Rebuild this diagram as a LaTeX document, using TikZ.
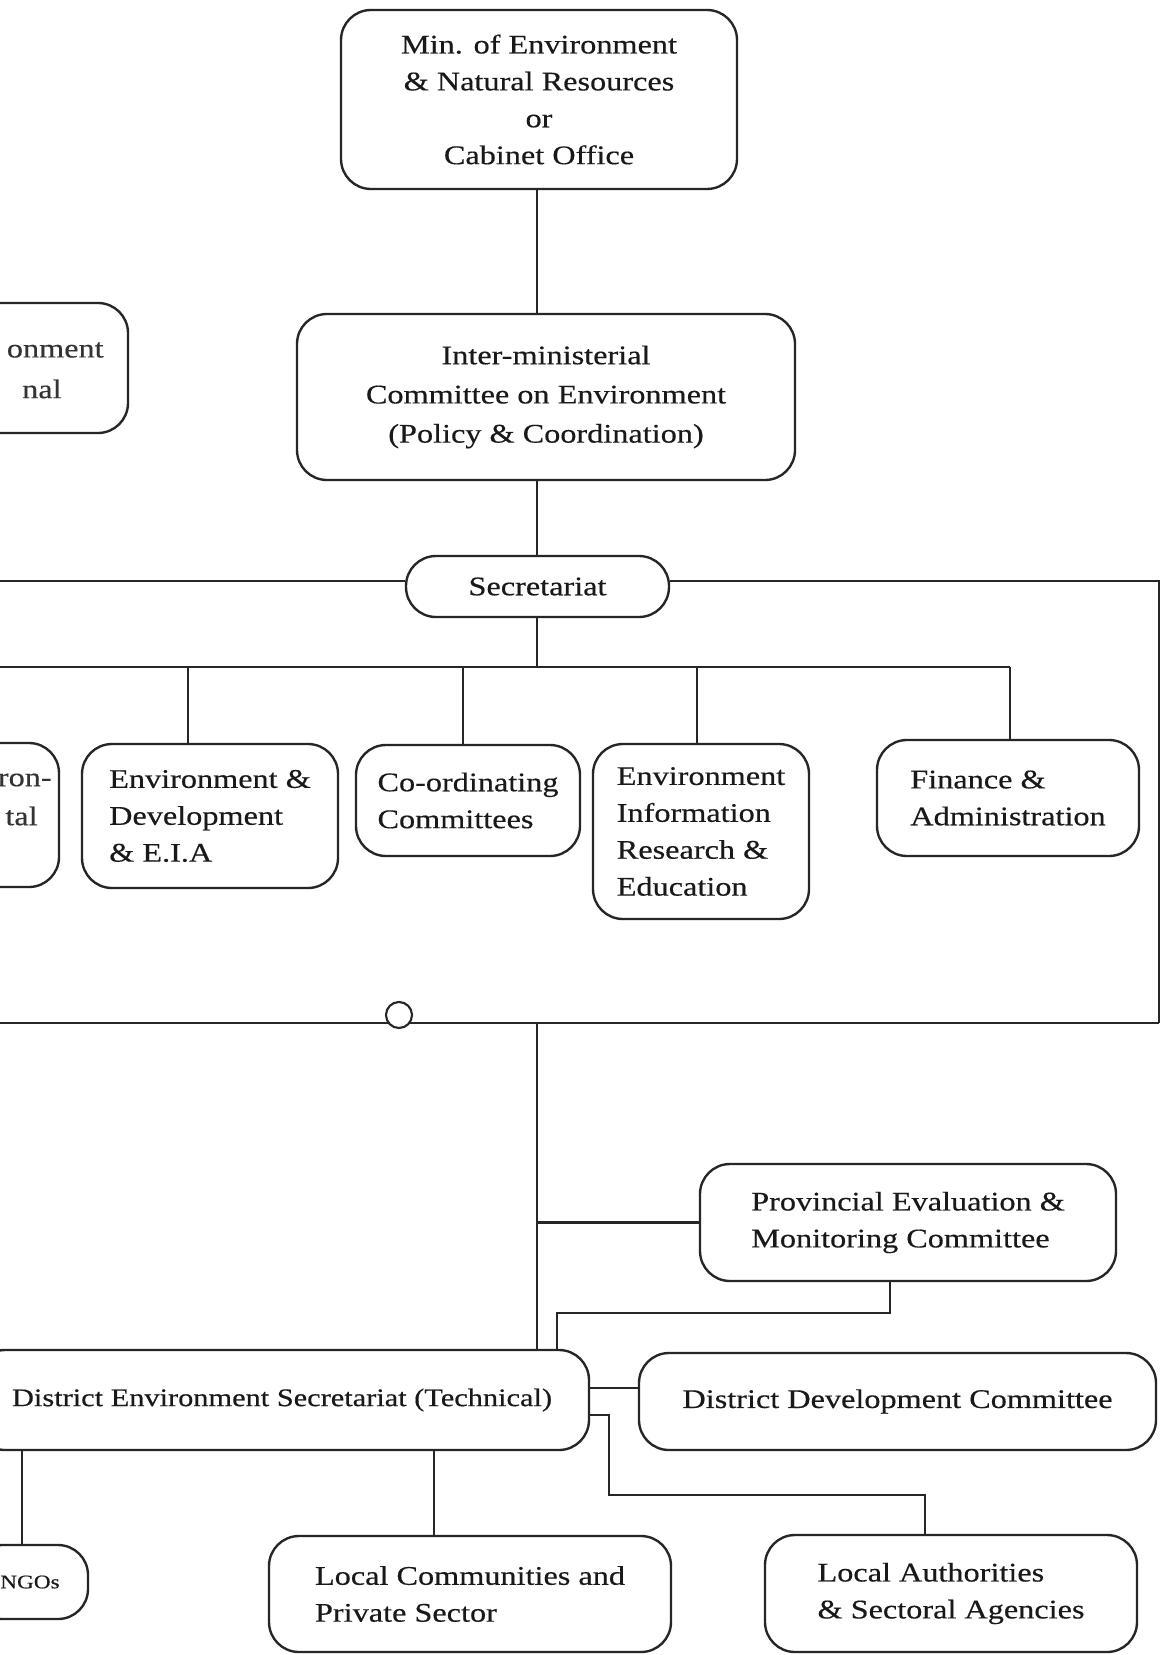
\documentclass[tikz,border=0pt]{standalone}
\usepackage{fontspec}
\setmainfont{Liberation Serif}[FakeStretch=1.2, FakeBold=0.4]
\begin{document}
\begin{tikzpicture}[x=0.02cm,y=-0.02cm,
  every node/.style={font=\fontsize{15.3pt}{21pt}\selectfont, text=black!90},
  area/.style n args={4}{minimum width={((#3)-(#1))*0.02cm}, minimum height={((#4)-(#2))*0.02cm},
    at={({((#1)+(#3))/2},{((#2)+(#4))/2})}},
  box/.style={draw=black!85, line width=1.35pt, rounded corners=0.6cm, inner sep=0pt, align=center},
  lbox/.style={box, align=left},
  small/.style={font=\fontsize{14.4pt}{20pt}\selectfont},
  frag/.style={inner sep=0pt, text=black!80},
  link/.style={draw=black!85, line width=1.3pt},
  rule/.style={draw=black!85, line width=1.6pt}]

% page frame
\useasboundingbox (0,0) rectangle (1162,1655);
\fill[white] (0,0) rectangle (1162,1655);
\clip (0,0) rectangle (1162,1655);

% guide coordinates
\coordinate (trunk) at (537,0);
\coordinate (ul) at (0,581);
\coordinate (ur) at (1159,581);
\coordinate (ll) at (0,1023);
\coordinate (lr) at (1159,1023);
\coordinate (busL) at (0,667);
\coordinate (busR) at (1010,667);
\coordinate (d1) at (188,667);
\coordinate (d2) at (463,667);
\coordinate (d3) at (697,667);

% upper level
\node[box, area={341}{10}{737}{189}] (min)
  {Min. of Environment\\\& Natural Resources\\or\\Cabinet Office};
\node[box, area={297}{314}{795}{480}, font=\fontsize{15.3pt}{22.3pt}\selectfont] (imc)
  {Inter-ministerial\\Committee on Environment\\(Policy \& Coordination)};
\node[box, area={406}{556}{669}{617}] (sec) {Secretariat};

% box cut by the left edge, upper
\node[box, area={-150}{303}{128}{433}] (govbox) {};
\node[frag, anchor=east] (govt1) at (104,350) {onment};
\node[frag, anchor=east] (govt2) at (62,389) {nal};

% units under the secretariat
\node[box, area={-200}{743}{59}{887}] (envbox) {};
\node[frag, anchor=east] (envt1) at (52,780) {ron-};
\node[frag, anchor=east] (envt2) at (38,816) {tal};
\node[lbox, area={82}{744}{338}{888}] (ed)
  {Environment \&\\Development\\\& E.I.A};
\node[lbox, area={356}{745}{580}{856}] (co)
  {Co-ordinating\\Committees};
\node[lbox, area={593}{744}{809}{919}] (ei)
  {Environment\\Information\\Research \&\\Education};
\node[lbox, area={877}{740}{1139}{856}] (fa)
  {Finance \&\\Administration};

% provincial and district level
\node[lbox, area={700}{1164}{1116}{1281}] (pe)
  {Provincial Evaluation \&\\Monitoring Committee};
\node[box, small, area={-25}{1350}{589}{1450}] (des)
  {District Environment Secretariat (Technical)};
\node[box, area={639}{1353}{1156}{1450}] (dd) {District Development Committee};
\node[box, area={-28}{1545}{88}{1619}, font=\fontsize{11pt}{14pt}\selectfont] (ngo) {NGOs};
\node[lbox, area={269}{1536}{671}{1652}] (lc)
  {Local Communities and\\Private Sector};
\node[lbox, area={765}{1535}{1137}{1652}] (la)
  {Local Authorities\\\& Sectoral Agencies};

% vertical spine
\draw[link] (min.south -| trunk) -- (imc.north -| trunk);
\draw[link] (imc.south -| trunk) -- (sec.north -| trunk);

% long rules through the secretariat
\draw[rule] (ul) -- (sec.west |- ul);
\draw[rule] (sec.east |- ur) -- (ur) -- (lr);

% bus to the units
\draw[link] (sec.south -| trunk) -- (trunk |- busL);
\draw[rule] (busL) -- (busR);
\draw[link] (d1) -- (d1 |- ed.north);
\draw[link] (d2) -- (d2 |- co.north);
\draw[link] (d3) -- (d3 |- ei.north);
\draw[link] (busR) -- (busR |- fa.north);

% lower rule with its small loop
\node[circle, draw=black!85, line width=1.2pt, minimum size=0.52cm, inner sep=0pt] (loop) at (399,1015) {};
\draw[rule] (ll) -- (loop.south west |- ll);
\draw[rule] (loop.south east |- lr) -- (lr);

% down to the district level
\draw[link] (trunk |- lr) -- (trunk |- des.north);
\draw[link] (trunk |- pe.west) -- (pe.west);
\coordinate (pb) at (890,1313);
\coordinate (pc) at (557,1313);
\draw[link] (pe.south -| pb) -- (pb) -- (pc) -- (pc |- des.north);

% district links
\coordinate (h1) at (0,1388);
\draw[link] (des.east |- h1) -- (dd.west |- h1);
\coordinate (k1) at (609,1415);
\coordinate (k2) at (609,1495);
\coordinate (k3) at (925,1495);
\draw[link] (des.east |- k1) -- (k1) -- (k2) -- (k3) -- (k3 |- la.north);
\coordinate (m1) at (434,0);
\draw[link] (des.south -| m1) -- (lc.north -| m1);
\coordinate (n1) at (22,0);
\draw[link] (des.south -| n1) -- (ngo.north -| n1);

\end{tikzpicture}
\end{document}
